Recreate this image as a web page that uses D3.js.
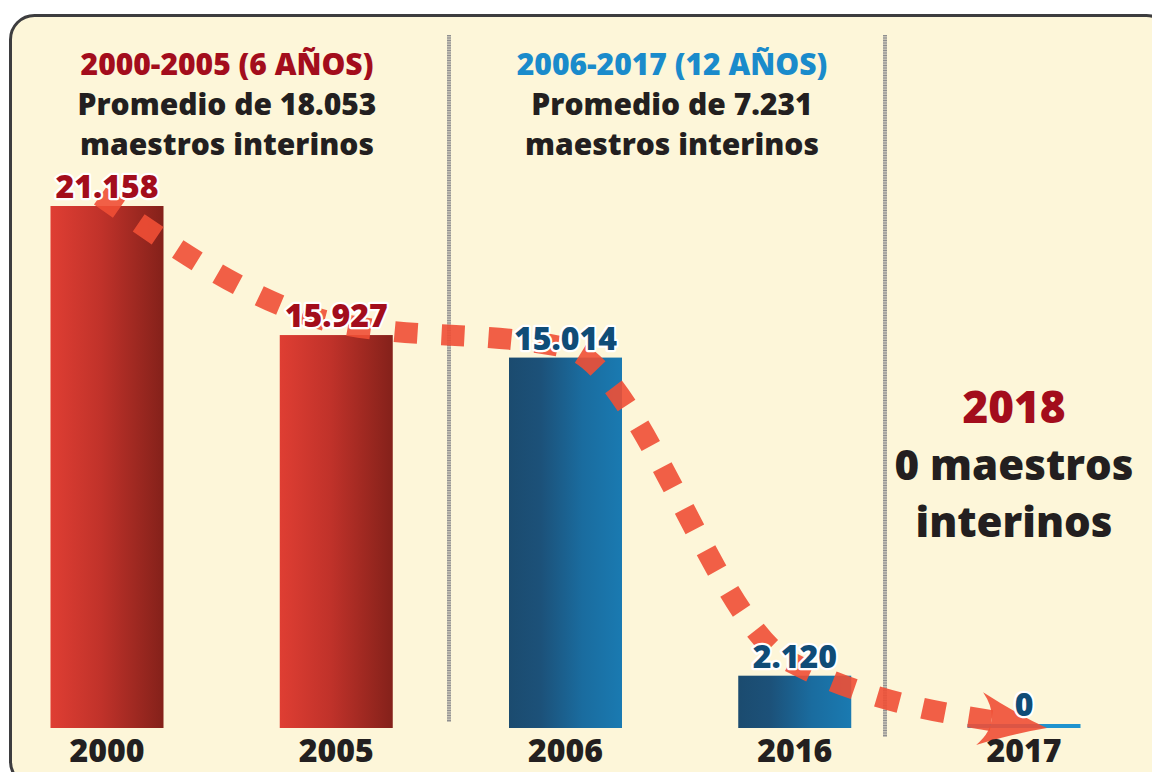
<!DOCTYPE html>
<html>
<head>
<meta charset="utf-8">
<script src="https://cdn.jsdelivr.net/npm/d3@7"></script>
<style>
  html, body { margin: 0; padding: 0; background: #ffffff; }
  svg { display: block; }
  text { font-family: 'Open Sans', 'Noto Sans', sans-serif; font-weight: 800; }
</style>
</head>
<body>
<div id="chart"></div>
<script>
// maestros interinos por año
var years = ['2000', '2005', '2006', '2016', '2017'];
var teachers = [21158, 15927, 15014, 2120, 0];
var yearPeriod = [0, 0, 1, 1, 1];

var periodTitles = ['2000-2005 (6 AÑOS)', '2006-2017 (12 AÑOS)'];
var periodLines = [
  ['Promedio de 18.053', 'maestros interinos'],
  ['Promedio de 7.231', 'maestros interinos']
];
var noteYear = '2018';
var noteLines = ['0 maestros', 'interinos'];

var width = 1152, height = 772;
var red = '#a30d1c', blue = '#1a8bcb', navy = '#0f4c77', ink = '#231f20', dash = '#f04f35';

var esFormat = d3.formatLocale({ decimal: ',', thousands: '.', grouping: [3], currency: ['', ''] }).format(',d');

var svg = d3.select('#chart').append('svg')
  .attr('width', width)
  .attr('height', height);

var defs = svg.append('defs');

var redGrad = defs.append('linearGradient').attr('id', 'gradRed');
redGrad.append('stop').attr('offset', '0%').attr('stop-color', '#df3e33');
redGrad.append('stop').attr('offset', '45%').attr('stop-color', '#c0322a');
redGrad.append('stop').attr('offset', '100%').attr('stop-color', '#84211a');

var blueGrad = defs.append('linearGradient').attr('id', 'gradBlue');
blueGrad.append('stop').attr('offset', '0%').attr('stop-color', '#1b4b6f');
blueGrad.append('stop').attr('offset', '28%').attr('stop-color', '#1c5179');
blueGrad.append('stop').attr('offset', '65%').attr('stop-color', '#1a6c9f');
blueGrad.append('stop').attr('offset', '100%').attr('stop-color', '#1a7ab1');

// panel
svg.append('rect')
  .attr('x', 10.5)
  .attr('y', 15.5)
  .attr('width', 1160)
  .attr('height', 770)
  .attr('rx', 24)
  .attr('ry', 24)
  .style('fill', '#fdf6d9')
  .style('stroke', '#3d3d3f')
  .style('stroke-width', 3);

// separators
[[449, 35, 722], [885, 35, 737]].forEach(function (d) {
  svg.append('line')
    .attr('x1', d[0]).attr('x2', d[0])
    .attr('y1', d[1]).attr('y2', d[2])
    .style('stroke', '#c4c0b4')
    .style('stroke-width', 4);
  svg.append('line')
    .attr('x1', d[0]).attr('x2', d[0])
    .attr('y1', d[1]).attr('y2', d[2])
    .style('stroke', '#8f8f8f')
    .style('stroke-width', 4)
    .style('stroke-dasharray', '1 1.5');
});

var x = d3.scalePoint().domain(years).range([107, 1024]);
var y = d3.scaleLinear().domain([0, d3.max(teachers)]).range([728, 206]);
var barWidth = 113;

var rows = years.map(function (yr, i) {
  return { year: yr, value: teachers[i], period: yearPeriod[i] };
});

// bars
svg.append('g').selectAll('rect')
  .data(rows)
  .enter().append('rect')
  .attr('x', function (d) { return x(d.year) - barWidth / 2; })
  .attr('y', function (d) { return Math.min(y(d.value), y(0) - 4); })
  .attr('width', barWidth)
  .attr('height', function (d) { return Math.max(y(0) - y(d.value), 4); })
  .style('fill', function (d) {
    if (d.value === 0) return '#1f93cf';
    return d.period === 0 ? 'url(#gradRed)' : 'url(#gradBlue)';
  });

// dashed trend arrow through the bar tops
var anchors = [
  [x(years[0]) - 7, y(teachers[0]) - 10],
  [x(years[1]), y(teachers[1]) - 12],
  [x(years[2]), y(teachers[2]) - 10],
  [x(years[3]) - 5, y(teachers[3]) - 14],
  [x(years[4]) + 23, y(teachers[4])]
];

var trend = svg.append('path')
  .attr('d', d3.line().curve(d3.curveMonotoneX)(anchors))
  .style('fill', 'none')
  .style('stroke', dash)
  .style('stroke-width', 21)
  .style('opacity', 0.9);

var len = trend.node().getTotalLength();
var stopAt = len - 55;
var pattern = [];
for (var l = 0; l + 23 <= stopAt; l += 47) { pattern.push(23, 24); }
pattern.push(0, len);
trend.style('stroke-dasharray', pattern.join(' '));

var tip = trend.node().getPointAtLength(len);
var back = trend.node().getPointAtLength(len - 40);
var angle = Math.atan2(tip.y - back.y, tip.x - back.x) * 180 / Math.PI;

svg.append('path')
  .attr('d', 'M0,0 Q-30,-9 -68,-27 Q-44,0 -68,26 Q-30,9 0,0 Z')
  .attr('transform', 'translate(' + tip.x + ',' + tip.y + ') rotate(' + angle + ')')
  .style('fill', dash)
  .style('opacity', 0.9);

// value labels
svg.append('g').selectAll('text')
  .data(rows)
  .enter().append('text')
  .attr('x', function (d) { return x(d.year); })
  .attr('y', function (d) { return Math.min(y(d.value), y(0) - 4) - 8; })
  .attr('text-anchor', 'middle')
  .style('font-size', '32px')
  .style('fill', function (d) { return d.period === 0 ? red : navy; })
  .style('stroke', '#ffffff')
  .style('stroke-width', 4.5)
  .style('stroke-linejoin', 'round')
  .style('paint-order', 'stroke')
  .text(function (d) { return esFormat(d.value); });

// year labels
svg.append('g').selectAll('text')
  .data(rows)
  .enter().append('text')
  .attr('x', function (d) { return x(d.year); })
  .attr('y', 762)
  .attr('text-anchor', 'middle')
  .style('font-size', '32px')
  .style('fill', ink)
  .text(function (d) { return d.year; });

// period headers
var headerX = [227, 672];
var headerColors = [red, blue];
periodTitles.forEach(function (t, i) {
  svg.append('text')
    .attr('x', headerX[i])
    .attr('y', 75)
    .attr('text-anchor', 'middle')
    .style('font-size', '30px')
    .style('fill', headerColors[i])
    .text(t);
  periodLines[i].forEach(function (line, j) {
    svg.append('text')
      .attr('x', headerX[i])
      .attr('y', 115 + j * 40)
      .attr('text-anchor', 'middle')
      .style('font-size', '30px')
      .style('fill', ink)
      .text(line);
  });
});

// 2018 note
svg.append('text')
  .attr('x', 1014)
  .attr('y', 423)
  .attr('text-anchor', 'middle')
  .style('font-size', '44px')
  .style('fill', red)
  .text(noteYear);

noteLines.forEach(function (line, j) {
  svg.append('text')
    .attr('x', 1014)
    .attr('y', 480 + j * 57)
    .attr('text-anchor', 'middle')
    .style('font-size', '42px')
    .style('fill', ink)
    .text(line);
});
</script>
</body>
</html>
